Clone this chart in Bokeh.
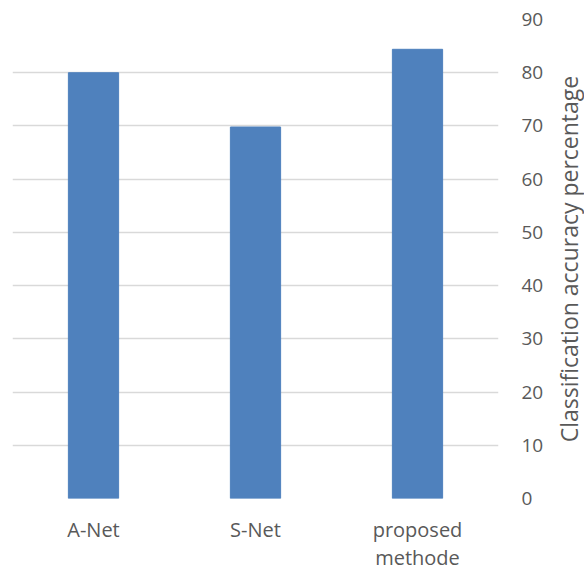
import math
from bokeh.plotting import figure
from bokeh.layouts import row
from bokeh.models import Range1d, FactorRange, FixedTicker, LinearAxis, CategoricalAxis
from bokeh.core.properties import value
from bokeh.embed import file_html
from bokeh.resources import INLINE

categories = ["A-Net", "S-Net", "proposed methode"]
values = [80, 69.8, 84.4]
y_ticks = [0, 10, 20, 30, 40, 50, 60, 70, 80, 90]
y_title = "Classification accuracy percentage"

FONT = "Open Sans"
TXT = "#595959"

# wrapped category labels (first and second line); blank factors made unique
line1 = [c.split(" ")[0] for c in categories]
line2 = [(" ".join(c.split(" ")[1:]) or " " * (i + 1)) for i, c in enumerate(categories)]

y_range = Range1d(min(y_ticks), max(y_ticks))

p = figure(width=552, height=574, x_range=FactorRange(*categories, range_padding=0),
           y_range=y_range, output_backend="svg", toolbar_location=None,
           y_axis_location=None, x_axis_location=None)
p.extra_x_ranges = {"l1": FactorRange(*line1, range_padding=0),
                    "l2": FactorRange(*line2, range_padding=0)}
p.min_border_left = 12
p.min_border_right = 54
p.min_border_top = 19
p.min_border_bottom = 0
p.outline_line_color = None
p.background_fill_color = "white"
p.border_fill_color = "white"

p.vbar(x=categories, top=values, width=0.31, fill_color="#4f81bd", line_color="#4f81bd")

yaxis = LinearAxis(ticker=FixedTicker(ticks=y_ticks))
yaxis.axis_line_color = None
yaxis.major_tick_line_color = None
yaxis.minor_tick_line_color = None
yaxis.major_tick_out = 0
yaxis.major_tick_in = 0
yaxis.major_label_text_font = FONT
yaxis.major_label_text_font_size = "19px"
yaxis.major_label_text_color = TXT
yaxis.major_label_standoff = 23
p.add_layout(yaxis, "right")

p.ygrid.ticker = FixedTicker(ticks=y_ticks)
p.ygrid.grid_line_color = "#d9d9d9"
p.ygrid.grid_line_width = 1.5
p.xgrid.grid_line_color = None

for rng, standoff in (("l1", 17), ("l2", -2)):
    ax = CategoricalAxis(x_range_name=rng)
    ax.axis_line_color = None
    ax.major_tick_line_color = None
    ax.minor_tick_line_color = None
    ax.major_tick_out = 0
    ax.major_tick_in = 0
    ax.major_label_standoff = standoff
    ax.major_label_text_font = FONT
    ax.major_label_text_font_size = "20px"
    ax.major_label_text_color = TXT
    p.add_layout(ax, "below")

# axis title panel (reads bottom-to-top, at the right edge)
t = figure(width=32, height=574, x_range=Range1d(0, 1), y_range=y_range,
           output_backend="svg", toolbar_location=None,
           x_axis_location=None, y_axis_location=None)
t.min_border_left = 0
t.min_border_right = 0
t.min_border_top = 19
t.min_border_bottom = 76
t.outline_line_color = None
t.xgrid.grid_line_color = None
t.ygrid.grid_line_color = None
t.text(x=[0.5], y=[(y_range.start + y_range.end) / 2], text=[y_title], angle=math.pi / 2,
       text_align="center", text_baseline="middle", text_font=value(FONT),
       text_font_size="23px", text_color=TXT)

open("out.html", "w").write(file_html(row(p, t), INLINE))
